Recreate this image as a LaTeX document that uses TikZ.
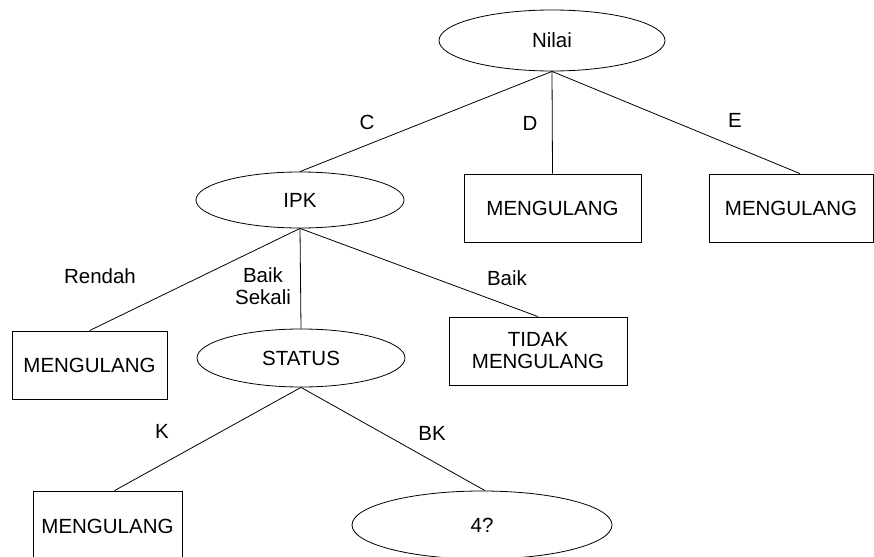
\documentclass[tikz,border=0pt]{standalone}
\usepackage{fontspec}
\setmainfont{Liberation Sans}
\usetikzlibrary{shapes.geometric}
\begin{document}
\begin{tikzpicture}[x=1pt,y=-1pt,
  every node/.style={font=\fontsize{20.5}{22}\selectfont},
  ell/.style={draw,ellipse,inner sep=0pt,line width=0.8pt},
  boxnode/.style={draw,rectangle,inner sep=0pt,line width=0.8pt,align=center},
  edge/.style={line width=0.8pt},
  lbl/.style={inner sep=0pt,align=center}]
\useasboundingbox (0,0) rectangle (874,556);
\node[ell,minimum width=226pt,minimum height=61pt] (nilai) at (552,40.5) {Nilai};
\node[ell,minimum width=208pt,minimum height=56pt] (ipk) at (300,200) {IPK};
\node[boxnode,minimum width=177pt,minimum height=68pt] (md) at (552.5,208) {MENGULANG};
\node[boxnode,minimum width=164pt,minimum height=68pt] (me) at (791,208) {MENGULANG};
\node[boxnode,minimum width=155pt,minimum height=68pt] (mr) at (89.5,365) {MENGULANG};
\node[ell,minimum width=208pt,minimum height=58pt] (status) at (301,358) {STATUS};
\node[boxnode,minimum width=178pt,minimum height=68pt] (tidak) at (538,351) {TIDAK\\MENGULANG};
\node[boxnode,minimum width=149pt,minimum height=70pt] (mk) at (107.5,526) {MENGULANG};
\node[ell,minimum width=260pt,minimum height=68pt] (q4) at (482,525) {4?};

\draw[edge] (nilai.south) -- (ipk.north);
\draw[edge] (nilai.south) -- (md.north);
\draw[edge] (nilai.south) -- ([xshift=9pt]me.north);
\draw[edge] (ipk.south) -- (mr.north);
\draw[edge] (ipk.south) -- (status.north);
\draw[edge] (ipk.south) -- (tidak.north);
\draw[edge] (status.south) -- ([xshift=7pt]mk.north);
\draw[edge] (status.south) -- ([xshift=3pt]q4.north);

\node[lbl] (lc) at (367,122) {C};
\node[lbl] (ld) at (530,123) {D};
\node[lbl] (le) at (735,120) {E};
\node[lbl] (lr) at (100,276) {Rendah};
\node[lbl] (lbs) at (263,286) {Baik\\Sekali};
\node[lbl] (lb) at (507,278) {Baik};
\node[lbl] (lk) at (162,431) {K};
\node[lbl] (lbk) at (432,433) {BK};
\end{tikzpicture}
\end{document}
